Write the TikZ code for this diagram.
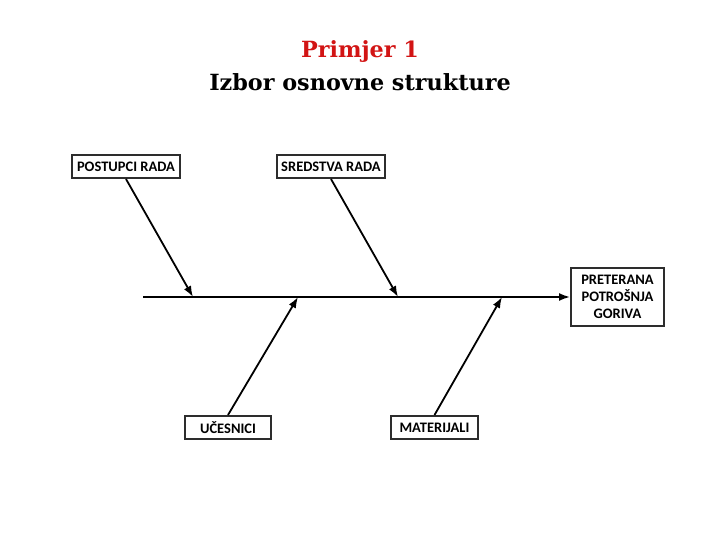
\documentclass[tikz,border=0pt]{standalone}
\usepackage{fontspec}
\setmainfont{DejaVu Serif}
\newfontfamily\boxfont{Carlito}
\usetikzlibrary{arrows.meta, positioning}
\definecolor{titlered}{RGB}{210,20,20}
\definecolor{framegray}{RGB}{45,45,45}

\begin{document}
\begin{tikzpicture}[x=1pt, y=-1pt,
  cause/.style={draw=framegray, line width=2pt, inner sep=3pt, minimum height=23pt,
    font=\boxfont\bfseries\fontsize{14.5}{17}\selectfont, align=center},
  bone/.style={line width=1.8pt, -{Latex[length=11pt,width=8pt]}}]
  \useasboundingbox (0,0) rectangle (720,540);
  % Title
  \node[font=\bfseries\fontsize{22.3}{26}\selectfont, text=titlered] (title1) at (360,52) {Primjer 1};
  \node[font=\bfseries\fontsize{22.3}{26}\selectfont] (title2) at (360,82) {Izbor osnovne strukture};

  % Causes
  \node[cause, minimum width=108pt] (postupci) at (126,166.5) {POSTUPCI RADA};
  \node[cause, minimum width=108pt] (sredstva) at (331,166.5) {SREDSTVA RADA};
  \node[cause, minimum width=86pt] (ucesnici) at (228,427.5) {UČESNICI};
  \node[cause, minimum width=87pt] (materijali) at (434.5,427.5) {MATERIJALI};
  % Effect
  \node[cause, minimum width=93pt, minimum height=58pt] (effect) at (617.5,297) {PRETERANA\\POTROŠNJA\\GORIVA};

  % Spine
  \coordinate (tail) at (143,297);
  \coordinate (j1) at (193,297);
  \coordinate (j2) at (398,297);
  \coordinate (j3) at (298,297);
  \coordinate (j4) at (502,297);
  \draw[bone] (tail) -- (effect.west);

  % Bones
  \draw[bone] (postupci.south) -- (j1);
  \draw[bone] (sredstva.south) -- (j2);
  \draw[bone] (ucesnici.north) -- (j3);
  \draw[bone] (materijali.north) -- (j4);
\end{tikzpicture}
\end{document}
